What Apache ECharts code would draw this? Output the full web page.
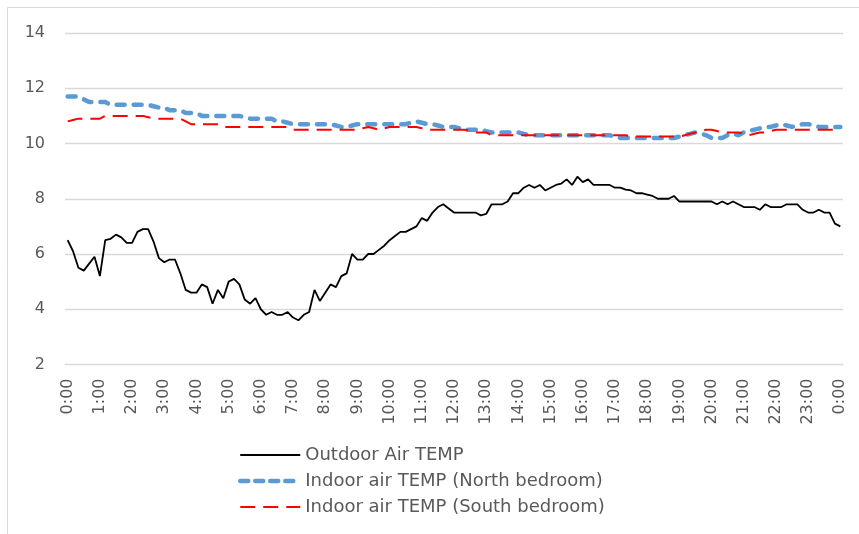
<!DOCTYPE html>
<html>
<head>
<meta charset="utf-8">
<script src="https://cdn.jsdelivr.net/npm/echarts@6/dist/echarts.min.js"></script>
<style>
html,body{margin:0;padding:0;background:#fff;}
#c{width:859px;height:534px;}
</style>
</head>
<body>
<div id="c"></div>
<script>
// Hour tick labels (every 6th 10-minute sample is labelled)
var hourLabels = ['0:00','1:00','2:00','3:00','4:00','5:00','6:00','7:00','8:00','9:00','10:00','11:00','12:00','13:00','14:00','15:00','16:00','17:00','18:00','19:00','20:00','21:00','22:00','23:00','0:00'];
var minuteSteps = ['00','10','20','30','40','50'];

var outdoor = [
 6.5, 6.1, 5.5, 5.4, 5.65, 5.9, 5.2, 6.5, 6.55, 6.7,
 6.6, 6.4, 6.4, 6.8, 6.9, 6.9, 6.45, 5.85, 5.7, 5.8,
 5.8, 5.3, 4.7, 4.6, 4.6, 4.9, 4.8, 4.2, 4.7, 4.4,
 5.0, 5.1, 4.9, 4.35, 4.2, 4.4, 4.0, 3.8, 3.9, 3.8,
 3.8, 3.9, 3.7, 3.6, 3.8, 3.9, 4.7, 4.3, 4.6, 4.9,
 4.8, 5.2, 5.3, 6.0, 5.8, 5.8, 6.0, 6.0, 6.15, 6.3,
 6.5, 6.65, 6.8, 6.8, 6.9, 7.0, 7.3, 7.2, 7.5, 7.7,
 7.8, 7.65, 7.5, 7.5, 7.5, 7.5, 7.5, 7.4, 7.45, 7.8,
 7.8, 7.8, 7.9, 8.2, 8.2, 8.4, 8.5, 8.4, 8.5, 8.3,
 8.4, 8.5, 8.55, 8.7, 8.5, 8.8, 8.6, 8.7, 8.5, 8.5,
 8.5, 8.5, 8.4, 8.4, 8.33, 8.3, 8.2, 8.2, 8.15, 8.1,
 8.0, 8.0, 8.0, 8.1, 7.9, 7.9, 7.9, 7.9, 7.9, 7.9,
 7.9, 7.8, 7.9, 7.8, 7.9, 7.8, 7.7, 7.7, 7.7, 7.6,
 7.8, 7.7, 7.7, 7.7, 7.8, 7.8, 7.8, 7.6, 7.5, 7.5,
 7.6, 7.5, 7.5, 7.1, 7.0
];

var north = [
 11.7, 11.7, 11.7, 11.6, 11.5, 11.5, 11.5, 11.5, 11.4, 11.4,
 11.4, 11.4, 11.4, 11.4, 11.4, 11.4, 11.35, 11.3, 11.3, 11.2,
 11.2, 11.2, 11.1, 11.1, 11.1, 11.0, 11.0, 11.0, 11.0, 11.0,
 11.0, 11.0, 11.0, 10.95, 10.9, 10.9, 10.9, 10.9, 10.9, 10.8,
 10.8, 10.75, 10.7, 10.7, 10.7, 10.7, 10.7, 10.7, 10.7, 10.7,
 10.65, 10.6, 10.6, 10.65, 10.7, 10.7, 10.7, 10.7, 10.7, 10.7,
 10.7, 10.7, 10.7, 10.7, 10.75, 10.8, 10.75, 10.7, 10.7, 10.65,
 10.6, 10.6, 10.6, 10.55, 10.5, 10.5, 10.5, 10.5, 10.45, 10.4,
 10.4, 10.4, 10.4, 10.4, 10.4, 10.35, 10.3, 10.3, 10.3, 10.3,
 10.3, 10.3, 10.3, 10.3, 10.3, 10.3, 10.3, 10.3, 10.3, 10.3,
 10.3, 10.3, 10.25, 10.2, 10.2, 10.2, 10.2, 10.2, 10.2, 10.2,
 10.2, 10.2, 10.2, 10.2, 10.25, 10.3, 10.35, 10.4, 10.35, 10.3,
 10.2, 10.2, 10.2, 10.3, 10.35, 10.3, 10.4, 10.45, 10.5, 10.55,
 10.6, 10.6, 10.65, 10.7, 10.65, 10.6, 10.65, 10.7, 10.7, 10.65,
 10.6, 10.6, 10.6, 10.6, 10.6
];

var south = [
 10.8, 10.85, 10.9, 10.9, 10.9, 10.9, 10.9, 11.0, 11.0, 11.0,
 11.0, 11.0, 11.0, 11.0, 11.0, 10.95, 10.9, 10.9, 10.9, 10.9,
 10.9, 10.9, 10.8, 10.7, 10.7, 10.7, 10.7, 10.7, 10.7, 10.6,
 10.6, 10.6, 10.6, 10.6, 10.6, 10.6, 10.6, 10.6, 10.6, 10.6,
 10.6, 10.6, 10.5, 10.5, 10.5, 10.5, 10.5, 10.5, 10.5, 10.5,
 10.5, 10.5, 10.5, 10.5, 10.5, 10.55, 10.6, 10.55, 10.5, 10.55,
 10.6, 10.6, 10.6, 10.6, 10.6, 10.6, 10.55, 10.5, 10.5, 10.5,
 10.5, 10.5, 10.5, 10.5, 10.5, 10.45, 10.4, 10.4, 10.4, 10.3,
 10.3, 10.3, 10.3, 10.3, 10.3, 10.3, 10.3, 10.3, 10.3, 10.3,
 10.3, 10.3, 10.3, 10.3, 10.3, 10.3, 10.3, 10.3, 10.3, 10.3,
 10.3, 10.3, 10.3, 10.3, 10.3, 10.25, 10.25, 10.25, 10.25, 10.25,
 10.25, 10.25, 10.25, 10.25, 10.25, 10.3, 10.35, 10.4, 10.45, 10.5,
 10.5, 10.45, 10.4, 10.4, 10.4, 10.4, 10.35, 10.3, 10.35, 10.4,
 10.4, 10.45, 10.5, 10.5, 10.5, 10.5, 10.5, 10.5, 10.5, 10.5,
 10.5, 10.5, 10.5, 10.5, 10.5
];

var seriesNames = ['Outdoor Air TEMP', 'Indoor air TEMP (North bedroom)', 'Indoor air TEMP (South bedroom)'];

// 10-minute categories built from the hour labels
var categories = [];
for (var h = 0; h < 24; h++) {
  var hh = hourLabels[h].split(':')[0];
  for (var m = 0; m < minuteSteps.length; m++) categories.push(hh + ':' + minuteSteps[m]);
}
categories.push(hourLabels[24]);

var FONT = 'DejaVu Sans';
var chart = echarts.init(document.getElementById('c'), null, {renderer: 'canvas'});
chart.setOption({
  animation: false,
  backgroundColor: '#ffffff',
  graphic: [{
    type: 'rect', silent: true, z: -10,
    shape: {x: 7.5, y: 7.5, width: 900, height: 600},
    style: {fill: 'none', stroke: '#D9D9D9', lineWidth: 1}
  }],
  grid: {left: 65, right: 16, top: 33, bottom: 169.5, containLabel: false},
  legend: {
    orient: 'vertical', left: 238, top: 445, padding: 0,
    itemWidth: 60, itemHeight: 14, itemGap: 6,
    itemStyle: {opacity: 0},
    textStyle: {fontFamily: FONT, fontSize: 18, color: '#595959', lineHeight: 20},
    data: [
      {name: seriesNames[0], lineStyle: {width: 2, color: '#000000', type: 'solid'}},
      {name: seriesNames[1], lineStyle: {width: 4.5, color: '#5B9BD5', type: [8, 7], cap: 'round'}},
      {name: seriesNames[2], lineStyle: {width: 2, color: '#FF0000', type: [15, 8]}}
    ]
  },
  xAxis: {
    type: 'category', data: categories, boundaryGap: true,
    axisLine: {show: true, lineStyle: {color: '#D9D9D9', width: 1}},
    axisTick: {show: false},
    axisLabel: {interval: 5, rotate: 90, margin: 14, fontFamily: FONT, fontSize: 16, color: '#595959'},
    splitLine: {show: false}
  },
  yAxis: {
    type: 'value', min: 2, max: 14, interval: 2,
    axisLine: {show: false}, axisTick: {show: false},
    axisLabel: {margin: 20, fontFamily: FONT, fontSize: 16, color: '#595959'},
    splitLine: {lineStyle: {color: '#D9D9D9', width: 1.3}}
  },
  series: [
    {name: seriesNames[0], type: 'line', data: outdoor, showSymbol: false, symbol: 'none',
     lineStyle: {color: '#000000', width: 1.8}, itemStyle: {color: '#000000'}},
    {name: seriesNames[1], type: 'line', data: north, showSymbol: false, symbol: 'none',
     lineStyle: {color: '#5B9BD5', width: 4.5, type: [8, 9], cap: 'round'}, itemStyle: {color: '#5B9BD5'}},
    {name: seriesNames[2], type: 'line', data: south, showSymbol: false, symbol: 'none',
     lineStyle: {color: '#FF0000', width: 2, type: [15, 8]}, itemStyle: {color: '#FF0000'}}
  ]
});
</script>
</body>
</html>
